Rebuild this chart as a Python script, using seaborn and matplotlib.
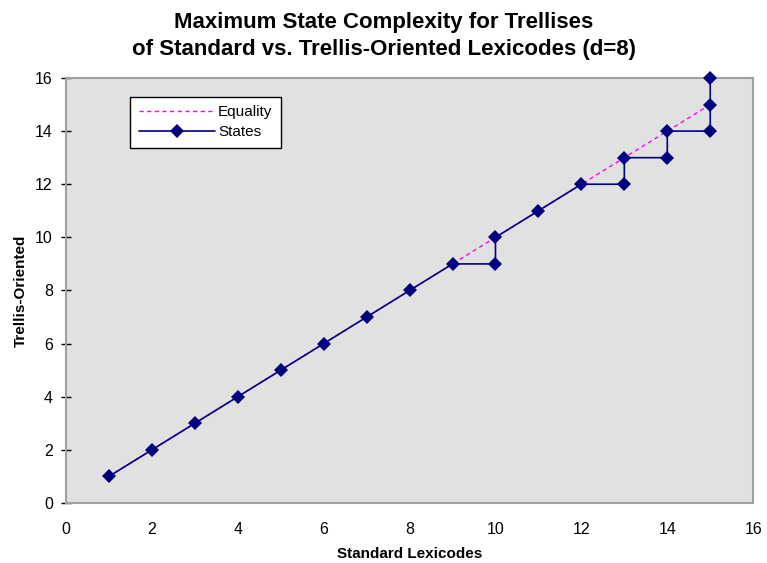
import matplotlib
matplotlib.use("Agg")
import matplotlib.pyplot as plt
import seaborn as sns
import pandas as pd

# Equality reference line
eq_x = [1, 15]
eq_y = [1, 15]

# Maximum state complexity: standard lexicode vs trellis-oriented lexicode
std_lex = [1, 2, 3, 4, 5, 6, 7, 8, 9, 10, 10, 11, 12, 13, 13, 14, 14, 15, 15, 15]
trellis = [1, 2, 3, 4, 5, 6, 7, 8, 9, 9, 10, 11, 12, 12, 13, 13, 14, 14, 15, 16]

x_ticks = [0, 2, 4, 6, 8, 10, 12, 14, 16]
y_ticks = [0, 2, 4, 6, 8, 10, 12, 14, 16]

sns.set_theme(style="white")
plt.rcParams["font.family"] = ["Liberation Sans", "DejaVu Sans"]
plt.rcParams["text.color"] = "black"
plt.rcParams["axes.labelcolor"] = "black"
plt.rcParams["xtick.color"] = "black"
plt.rcParams["ytick.color"] = "black"

fig = plt.figure(figsize=(7.67, 5.63), dpi=100)
ax = fig.add_axes([0.086, 0.1066, 0.896, 0.7549])
ax.set_facecolor("#e1e1e1")

df_eq = pd.DataFrame({"x": eq_x, "y": eq_y})
df_st = pd.DataFrame({"x": std_lex, "y": trellis})

sns.lineplot(data=df_eq, x="x", y="y", ax=ax, color="#ff00ff", lw=1.0,
             linestyle=(0, (3, 2.5)), sort=False, estimator=None,
             label="Equality")
sns.lineplot(data=df_st, x="x", y="y", ax=ax, color="#000080", lw=1.2,
             marker="D", markersize=7, markeredgewidth=0, sort=False,
             estimator=None, label="States")
for line in ax.lines:
    line.set_clip_on(False)
    line.set_zorder(3)

ax.set_xlim(0, 16)
ax.set_ylim(0, 16)
ax.set_xticks(x_ticks)
ax.set_yticks(y_ticks)
ax.tick_params(axis="x", length=0, pad=14, labelsize=11.5)
ax.tick_params(axis="y", length=7, width=1, direction="inout",
               pad=6, labelsize=11.5, left=True)
for s in ax.spines.values():
    s.set_visible(True)
    s.set_color("#a0a0a0")
    s.set_linewidth(1.5)

ax.set_xlabel("Standard Lexicodes", fontsize=11, fontweight="bold", labelpad=7)
ax.set_ylabel("Trellis-Oriented", fontsize=11, fontweight="bold", labelpad=5)
fig.suptitle("Maximum State Complexity for Trellises\nof Standard vs. Trellis-Oriented Lexicodes (d=8)",
             fontsize=16, fontweight="bold", y=0.978, linespacing=1.35,
             color="black")

leg = ax.legend(loc="upper left", bbox_to_anchor=(0.087, 0.967), frameon=True,
                fancybox=False, fontsize=11, handlelength=5.0, borderpad=0.55,
                borderaxespad=0.3, labelspacing=0.4, handletextpad=0.2)
leg.get_frame().set_edgecolor("black")
leg.get_frame().set_linewidth(1.0)
leg.get_frame().set_facecolor("white")
leg.get_frame().set_alpha(1)
leg.set_zorder(5)

fig.savefig("out.png", dpi=100)
